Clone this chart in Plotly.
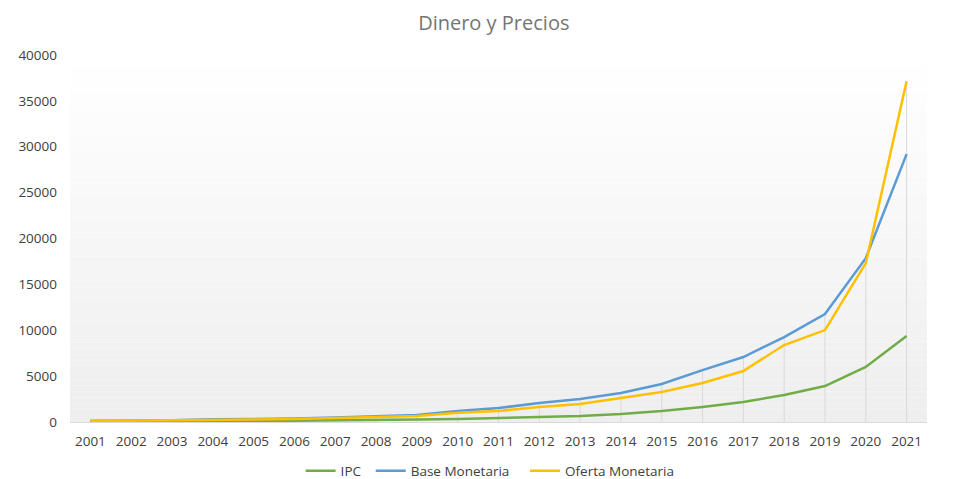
import plotly.graph_objects as go

years = [str(y) for y in range(2001, 2022)]
ipc = [100, 70, 80, 90, 100, 120, 160, 200, 260, 330, 430, 520, 650, 870, 1200,
       1640, 2180, 2940, 3920, 6000, 9370]
base_monetaria = [100, 120, 200, 290, 300, 380, 500, 600, 760, 1200, 1520, 2070,
                  2500, 3160, 4140, 5660, 7080, 9260, 11760, 17860, 29200]
oferta_monetaria = [100, 130, 180, 230, 270, 330, 420, 520, 650, 1000, 1200, 1630,
                    1960, 2610, 3270, 4250, 5560, 8390, 10020, 17300, 37150]
y_ticks = [0, 5000, 10000, 15000, 20000, 25000, 30000, 35000, 40000]

fig = go.Figure()

# gradient plot area (white top -> light grey bottom)
n = 60
for k in range(n):
    f = k / (n - 1)
    c = int(round(255 - (255 - 238) * f))
    fig.add_shape(type="rect", xref="paper", yref="paper",
                  x0=0, x1=1, y0=1 - (k + 1) / n, y1=1 - k / n,
                  fillcolor=f"rgb({c},{c},{c})", line_width=0, layer="below")

# drop lines
dx, dy = [], []
for i, yr in enumerate(years):
    dx += [yr, yr, None]
    dy += [0, max(ipc[i], base_monetaria[i], oferta_monetaria[i]), None]
fig.add_trace(go.Scatter(x=dx, y=dy, mode="lines", line=dict(color="#d9d9d9", width=1),
                         hoverinfo="skip", showlegend=False))

series = [("IPC", ipc, "#70AD47", "legend"),
          ("Base Monetaria", base_monetaria, "#5B9BD5", "legend2"),
          ("Oferta Monetaria", oferta_monetaria, "#FFC000", "legend3")]
for name, vals, col, lg in series:
    fig.add_trace(go.Scatter(x=years, y=vals, mode="lines", name=name, legend=lg,
                             line=dict(color=col, width=2.5)))

leg = dict(orientation="h", xanchor="left", xref="container", yref="container",
           y=0.017, yanchor="middle", font=dict(size=13.5, color="#404040"),
           itemwidth=30, bgcolor="rgba(0,0,0,0)")

# page has an 8px body margin, so the figure is sized to fit the rest of the window
fig.update_layout(
    width=947, height=471,
    paper_bgcolor="white",
    plot_bgcolor="rgba(0,0,0,0)",
    margin=dict(l=62, r=28, t=47, b=57, autoexpand=False),
    title=dict(text="Dinero y Precios", x=0.513, xanchor="center", y=0.968, yanchor="middle",
               font=dict(family="Open Sans", size=20, color="#757575")),
    font=dict(family="Open Sans", size=12, color="#595959"),
    xaxis=dict(type="category", range=[-0.5, 20.5], showgrid=False, showline=True,
               linecolor="#d9d9d9", ticks="", ticklabelstandoff=7,
               tickfont=dict(size=13.5, color="#404040")),
    yaxis=dict(range=[0, 40000], tickvals=y_ticks, tickformat="d", showgrid=False,
               zeroline=False, showline=False, ticks="", ticklabelstandoff=12,
               tickfont=dict(size=13.5, color="#404040")),
    legend=dict(leg, x=0.309),
    legend2=dict(leg, x=0.383),
    legend3=dict(leg, x=0.546),
)

fig.write_html("out.html")
